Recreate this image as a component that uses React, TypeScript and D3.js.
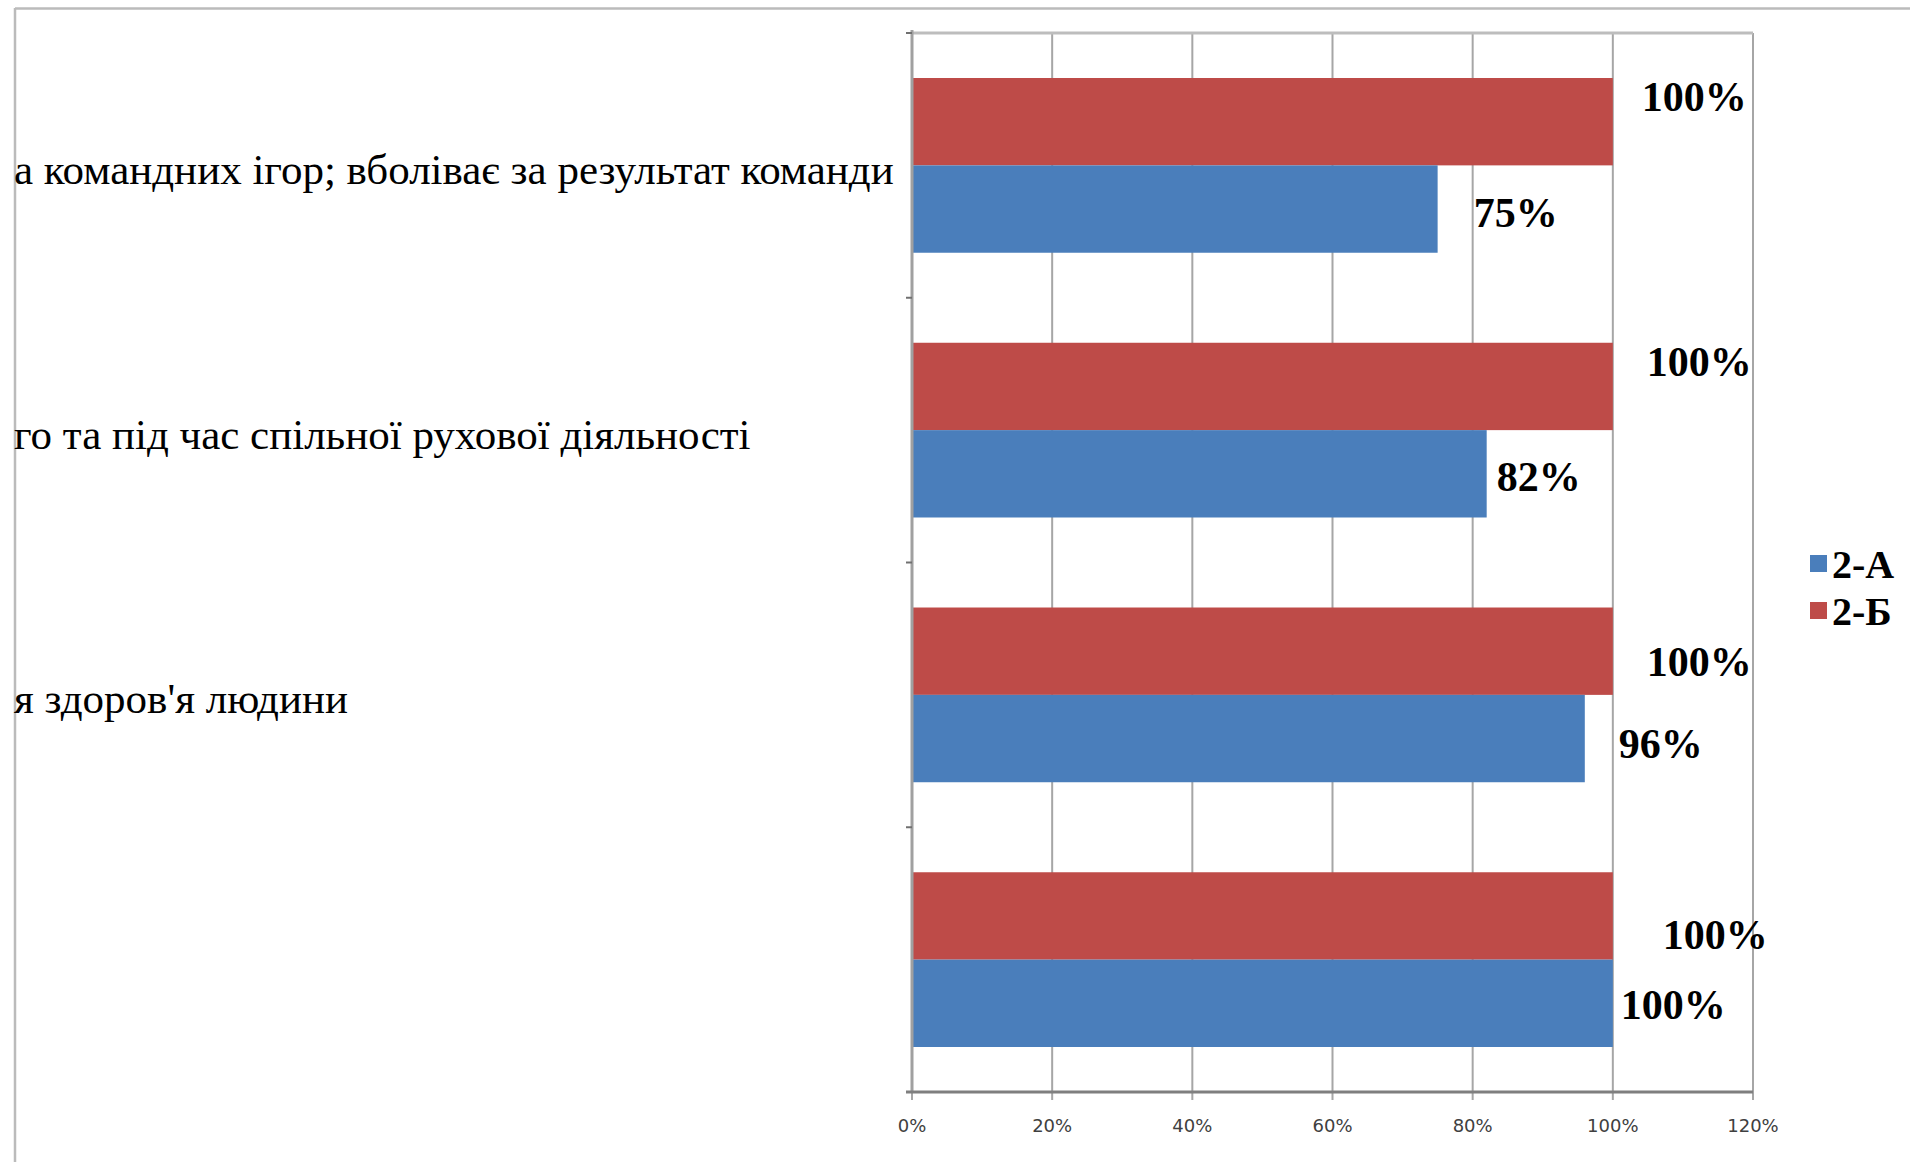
import React from "react";
import * as d3 from "d3";

const categories = [
  "а командних ігор; вболіває за результат команди",
  "го та під час спільної рухової діяльності",
  "я здоров'я людини",
  "",
];
const seriesNames = ["2-Б", "2-А"];
const valuesA = [0.75, 0.82, 0.96, 1.0];
const valuesB = [1.0, 1.0, 1.0, 1.0];
const xTicks = [0, 0.2, 0.4, 0.6, 0.8, 1.0, 1.2];

// label nudges (style only)
const nudgeA = [
  [36, 4],
  [10, 3],
  [34, 5],
  [8, 2],
];
const nudgeB = [
  [29, -25],
  [34, -24],
  [34, 11],
  [50, 19],
];

const colors: Record<string, string> = { "2-А": "#4A7EBB", "2-Б": "#BE4B48" };

const W = 1910;
const H = 1162;
const left = 912;
const right = 1753;
const top = 33;
const bottom = 1092;
const serif = "'Liberation Serif', 'Times New Roman', serif";
const sans = "'DejaVu Sans', 'Liberation Sans', sans-serif";

export default function App() {
  const x = d3.scaleLinear().domain([0, 1.2]).range([left, right]);
  const y = d3
    .scaleBand<string>()
    .domain(categories.map((_, i) => String(i)))
    .range([top, bottom])
    .paddingInner(0.34)
    .paddingOuter(0.17);
  const sub = d3.scaleBand<string>().domain(seriesNames).range([0, y.bandwidth()]);
  const step = y.step();
  const fmt = d3.format(".0%");

  return (
    <svg
      width={W}
      height={H}
      style={{ position: "absolute", left: 0, top: 0, background: "#fff" }}
    >
      <rect x={0} y={0} width={W} height={H} fill="#fff" />
      {/* outer chart border (extends beyond page) */}
      <line x1={15} y1={8.5} x2={W} y2={8.5} stroke="#BBBBBB" strokeWidth={2.5} />
      <line x1={15} y1={8} x2={15} y2={H} stroke="#BBBBBB" strokeWidth={2.5} />

      {/* gridlines */}
      {xTicks.map((t) => (
        <line
          key={"g" + t}
          x1={x(t)}
          x2={x(t)}
          y1={top}
          y2={bottom + 8}
          stroke="#A6A6A6"
          strokeWidth={2}
        />
      ))}
      {/* top border of plot */}
      <line x1={left} x2={right} y1={top} y2={top} stroke="#BDBDBD" strokeWidth={3} />

      {/* bars */}
      {categories.map((c, i) => {
        const y0 = y(String(i)) as number;
        return (
          <g key={"b" + i}>
            <rect
              x={x(0)}
              y={y0 + (sub("2-Б") as number)}
              width={x(valuesB[i]) - x(0)}
              height={sub.bandwidth()}
              fill={colors["2-Б"]}
            />
            <rect
              x={x(0)}
              y={y0 + (sub("2-А") as number)}
              width={x(valuesA[i]) - x(0)}
              height={sub.bandwidth()}
              fill={colors["2-А"]}
            />
          </g>
        );
      })}

      {/* left axis */}
      <line x1={left} x2={left} y1={top - 3} y2={bottom} stroke="#A0A0A0" strokeWidth={3} />
      {d3.range(categories.length + 1).map((k) => (
        <line
          key={"t" + k}
          x1={left - 6}
          x2={left}
          y1={top + k * step}
          y2={top + k * step}
          stroke="#707070"
          strokeWidth={2}
        />
      ))}
      {/* bottom axis */}
      <line x1={left - 6} x2={right} y1={bottom} y2={bottom} stroke="#7F7F7F" strokeWidth={3} />
      {xTicks.map((t) => (
        <text
          key={"xl" + t}
          x={x(t)}
          y={bottom + 33}
          textAnchor="middle"
          dominantBaseline="central"
          fontFamily={sans}
          fontSize={18}
          fill="#404040"
        >
          {fmt(t)}
        </text>
      ))}

      {/* category labels */}
      {categories.map((c, i) => (
        <text
          key={"c" + i}
          x={14}
          y={(y(String(i)) as number) + y.bandwidth() / 2 + 4}
          dominantBaseline="central"
          fontFamily={serif}
          fontSize={43}
          fill="#000"
        >
          {c}
        </text>
      ))}

      {/* data labels */}
      {categories.map((c, i) => {
        const y0 = y(String(i)) as number;
        const cb = y0 + (sub("2-Б") as number) + sub.bandwidth() / 2;
        const ca = y0 + (sub("2-А") as number) + sub.bandwidth() / 2;
        return (
          <g key={"l" + i} fontFamily={serif} fontWeight="bold" fontSize={42} fill="#000">
            <text
              x={x(valuesB[i]) + nudgeB[i][0]}
              y={cb + nudgeB[i][1]}
              dominantBaseline="central"
            >
              {fmt(valuesB[i])}
            </text>
            <text
              x={x(valuesA[i]) + nudgeA[i][0]}
              y={ca + nudgeA[i][1]}
              dominantBaseline="central"
            >
              {fmt(valuesA[i])}
            </text>
          </g>
        );
      })}

      {/* legend */}
      {["2-А", "2-Б"].map((s, k) => (
        <g key={"lg" + s} transform={`translate(1810, ${555 + k * 47})`}>
          <rect x={0} y={0} width={17} height={17} fill={colors[s]} />
          <text
            x={22}
            y={9}
            dominantBaseline="central"
            fontFamily={serif}
            fontWeight="bold"
            fontSize={40}
            fill="#000"
          >
            {s}
          </text>
        </g>
      ))}
    </svg>
  );
}
